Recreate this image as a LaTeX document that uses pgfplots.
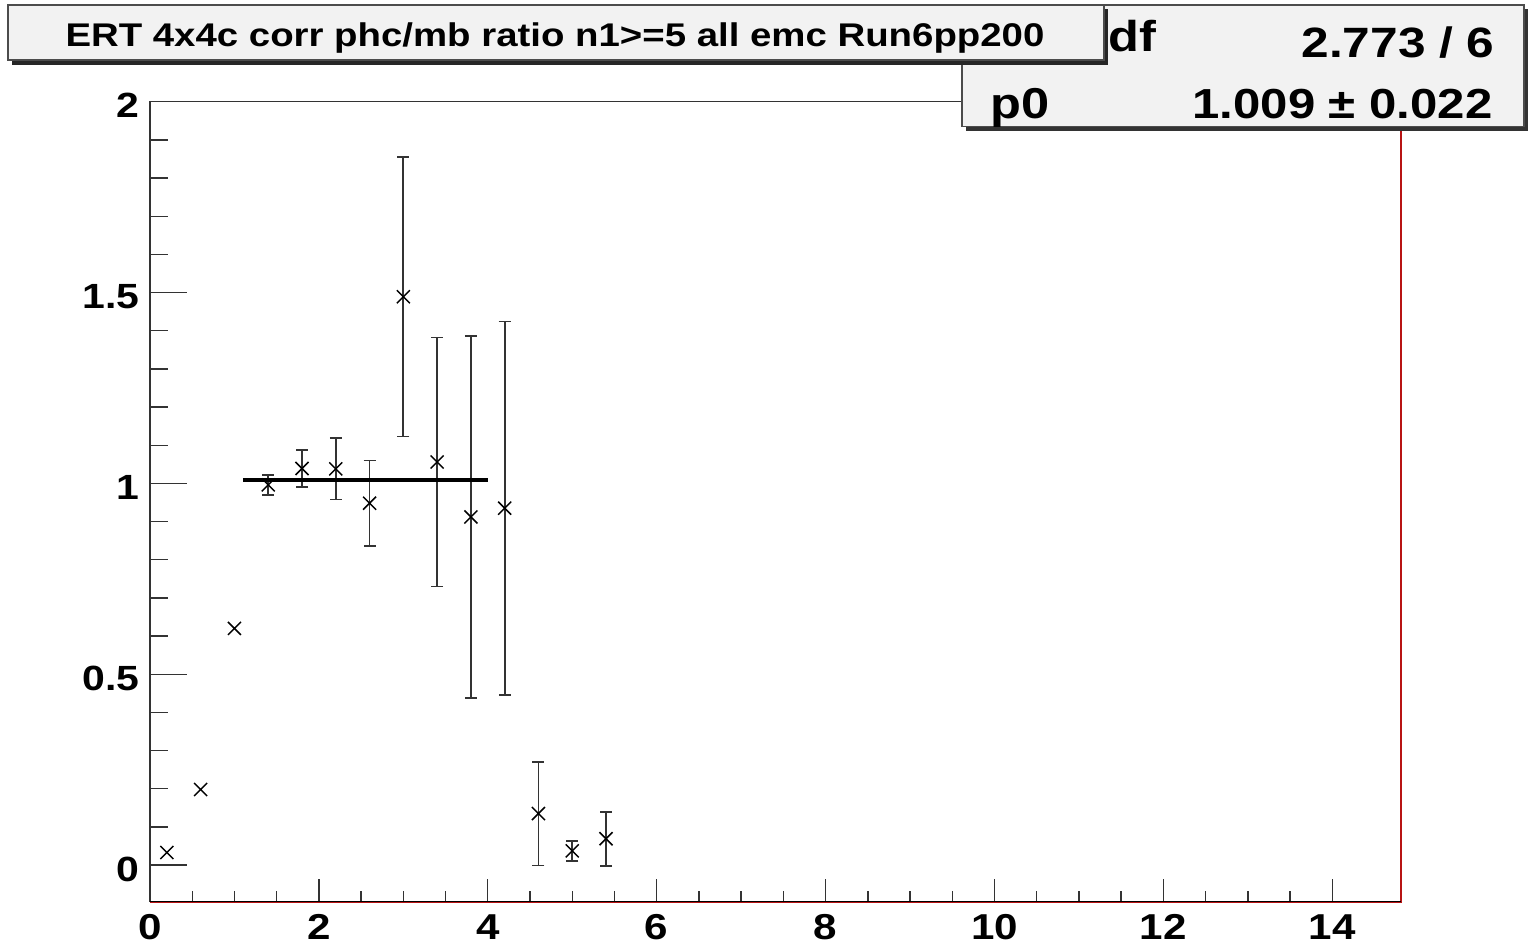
\documentclass[border=0pt]{standalone}
\usepackage{pgfplots}
\pgfplotsset{compat=1.18}
\usepackage{fontspec}
\setmainfont{Liberation Sans}
\newfontfamily\rootfont{Liberation Sans}[FakeStretch=1.17]
\definecolor{frameRed}{rgb}{0.72,0.08,0.08}
\definecolor{boxFill}{gray}{0.95}
\definecolor{tickGray}{gray}{0.2}
\pgfplotstableread{
x y e
1.4 0.996 0.027
1.8 1.039 0.049
2.2 1.038 0.080
2.6 0.948 0.112
3.0 1.489 0.366
3.4 1.056 0.326
3.8 0.912 0.474
4.2 0.935 0.489
4.6 0.135 0.136
5.0 0.037 0.027
5.4 0.069 0.071
}\witherr
\pgfplotstableread{
x y
0.2 0.033
0.6 0.198
1.0 0.620
}\noerr
\begin{document}
\begin{tikzpicture}[x=1pt,y=1pt]
\useasboundingbox (0,0) rectangle (764,472);
\begin{axis}[
  at={(75pt,21.15pt)}, anchor=south west, scale only axis,
  width=625.35pt, height=400pt,
  xmin=0, xmax=14.81, ymin=-0.096, ymax=2,
  axis line style={draw=none},
  xtick={0,2,...,14}, minor x tick num=3,
  ytick={0,0.5,1,1.5,2}, minor y tick num=4,
  xtick pos=left, ytick pos=left, tick align=inside,
  x tick style={/pgfplots/major tick length=11.5pt,/pgfplots/minor tick length=5.5pt},
  y tick style={/pgfplots/major tick length=18.5pt,/pgfplots/minor tick length=9pt},
  every tick/.style={tickGray, line width=0.7pt},
  /pgf/number format/assume math mode=true,
  xticklabel style={font=\rootfont\fontsize{18}{20}\selectfont\bfseries, anchor=base, inner sep=0pt, yshift=-18.8pt},
  yticklabel style={font=\rootfont\fontsize{17.5}{20}\selectfont\bfseries, anchor=east, inner sep=0pt, xshift=-5pt, yshift=-2pt},
  clip=false,
]
\addplot[only marks, mark=x, mark size=4.6pt, mark options={line width=0.75pt, black},
  error bars/.cd, y dir=both, y explicit,
  error bar style={line width=0.9pt, tickGray},
  error mark options={rotate=90, line width=0.9pt, tickGray, mark size=3pt}]
  table[x=x, y=y, y error=e]{\witherr};
\addplot[only marks, mark=x, mark size=4.6pt, mark options={line width=0.75pt, black}]
  table[x=x, y=y]{\noerr};
\addplot[black, line width=2pt, no marks] coordinates {(1.1,1.009) (4.0,1.009)};
\draw[tickGray, line width=0.7pt] (rel axis cs:0,0) -- (rel axis cs:0,1) -- (rel axis cs:1,1);
\draw[frameRed, line width=1.1pt] (rel axis cs:0,0) -- (rel axis cs:1,0) -- (rel axis cs:1,1);
\draw[black, line width=0.5pt] ([yshift=0.35pt]rel axis cs:0,0) -- ([yshift=0.35pt]rel axis cs:1,0);
\end{axis}
% stats box
\fill[black!80] (483,406.5) rectangle (764,467.5);
\filldraw[fill=boxFill, draw=black!70, line width=0.6pt] (481,408.7) rectangle (762,469.5);
\node[anchor=base west, inner sep=0pt, font=\rootfont\fontsize{21.6}{24}\selectfont\bfseries] at (554,446.2) {df};
\node[anchor=base east, inner sep=0pt, font=\rootfont\fontsize{21.2}{24}\selectfont\bfseries] at (747.5,443.2) {2.773 / 6};
\node[anchor=base west, inner sep=0pt, font=\rootfont\fontsize{21.6}{24}\selectfont\bfseries] at (495,412.8) {p0};
\node[anchor=base east, inner sep=0pt, font=\rootfont\fontsize{21}{24}\selectfont\bfseries] at (746.5,412.8) {1.009 ± 0.022};
% title box
\fill[black!85] (6,439.5) rectangle (554,467.5);
\filldraw[fill=boxFill, draw=black!70, line width=0.6pt] (4,442) rectangle (552,469.5);
\node[anchor=base, inner sep=0pt, font=\rootfont\fontsize{16.4}{20}\selectfont\bfseries] at (277.5,448.6) {ERT 4x4c corr phc/mb ratio n1>=5 all emc Run6pp200};
\end{tikzpicture}
\end{document}
